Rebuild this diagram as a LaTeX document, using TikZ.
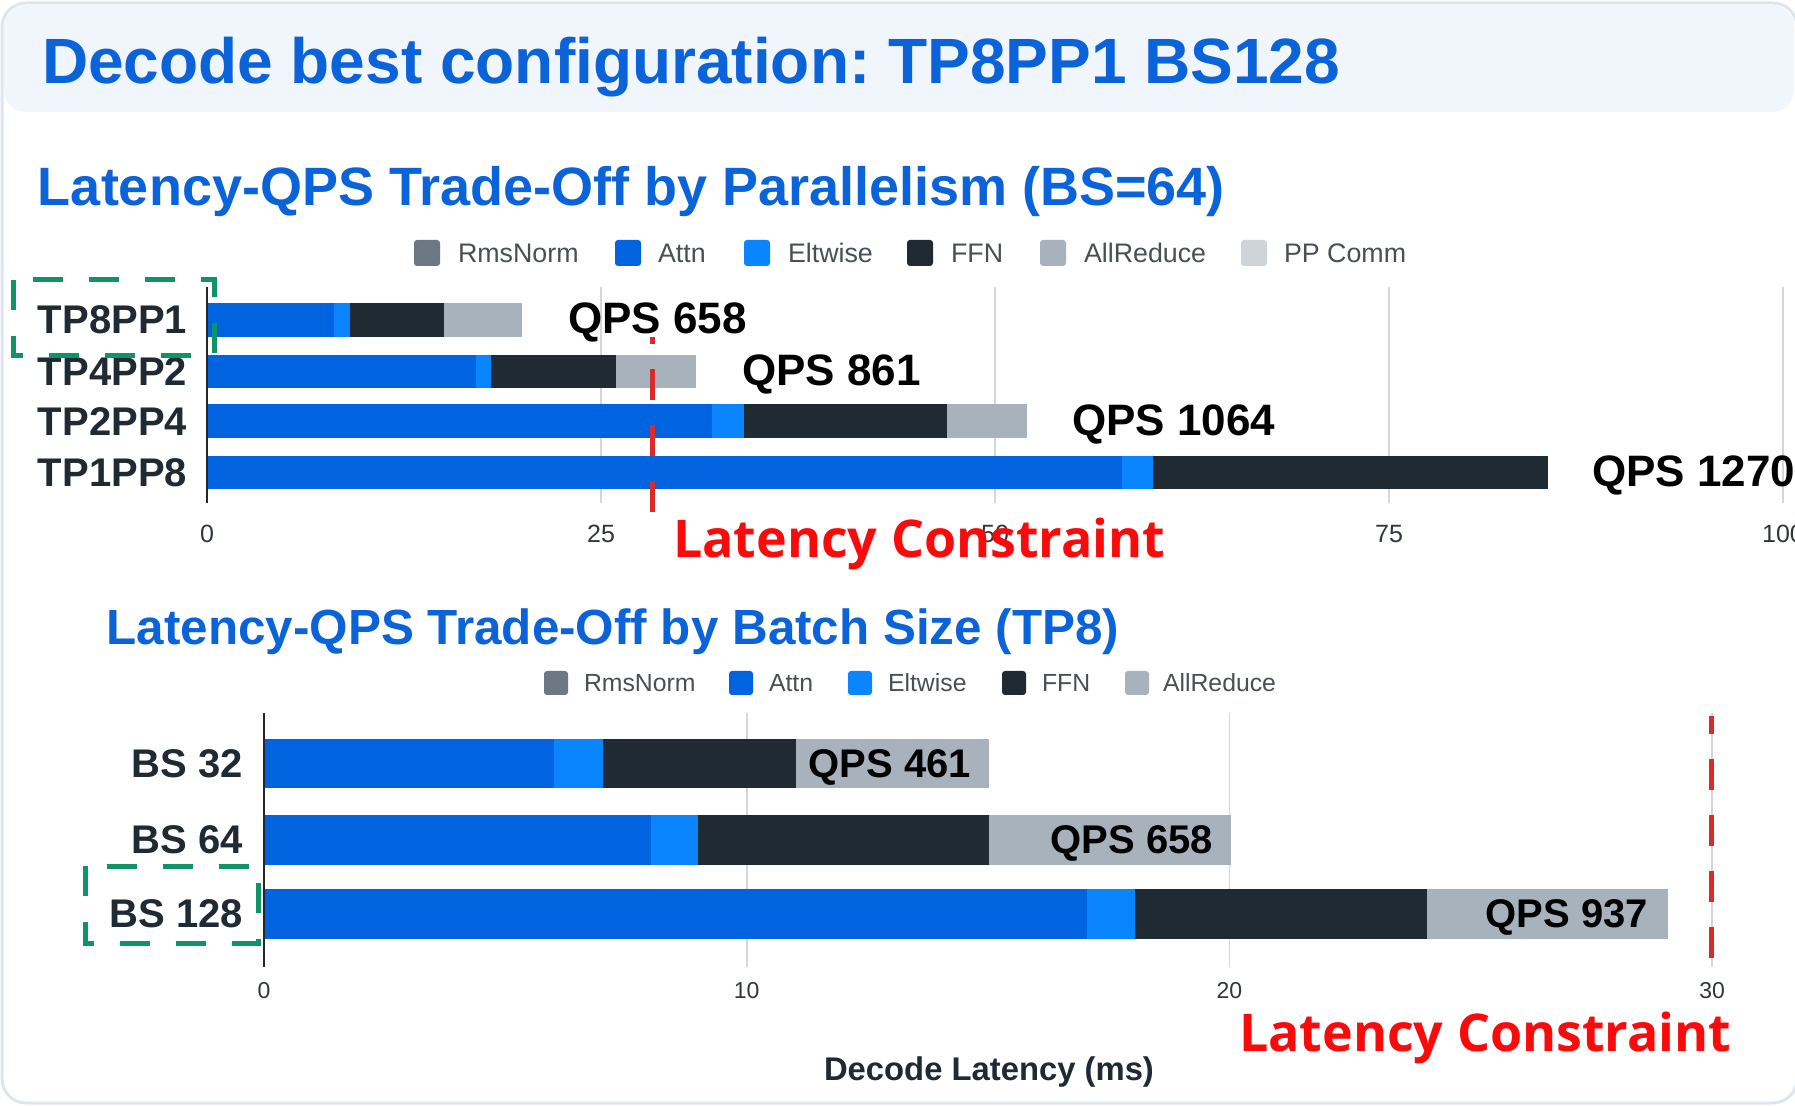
\documentclass[tikz,border=0pt]{standalone}
\usepackage{fontspec}
\setmainfont{Liberation Sans}
\newfontfamily\notefont{Open Sans}
\frenchspacing

\definecolor{cardline}{HTML}{DFE5EE}
\definecolor{headfill}{HTML}{F1F5FC}
\definecolor{titleblue}{HTML}{0B63DA}
\definecolor{cRms}{HTML}{6B7785}
\definecolor{cAttn}{HTML}{0063E0}
\definecolor{cElt}{HTML}{0A84FF}
\definecolor{cFFN}{HTML}{1F2A33}
\definecolor{cAR}{HTML}{A8B2BD}
\definecolor{cPP}{HTML}{CED4DA}
\definecolor{gridc}{HTML}{D3D6DA}
\definecolor{labc}{HTML}{1F2A33}
\definecolor{legc}{HTML}{4A4F55}
\definecolor{tickc}{HTML}{30363C}
\definecolor{limred}{HTML}{DA2A2A}
\definecolor{noteRed}{HTML}{FA0A0A}
\definecolor{boxgreen}{HTML}{0E9466}

\newcommand\fsz[1]{\fontsize{#1pt}{#1pt}\selectfont}
% one stacked-bar segment: x1, x2, y1, y2, colour
\newcommand\barseg[5]{\fill[#5] (#1,#3) rectangle (#2,#4);}

\begin{document}
\begin{tikzpicture}[x=0.5pt,y=-0.5pt,
  txt/.style={inner sep=0pt, outer sep=0pt},
  headtitle/.style={txt, anchor=base west, text=titleblue, font=\bfseries\fsz{32}},
  charttitle/.style={txt, anchor=base west, text=titleblue, font=\bfseries\fsz{#1}},
  legtext/.style={txt, anchor=base west, text=legc, font=\fsz{#1}},
  legsq/.style={fill=#1, rounded corners=1.5pt},
  rowlab/.style={txt, text=labc, font=\bfseries\fsz{20}},
  qps/.style={txt, text=black, font=\bfseries\fsz{#1}},
  tick/.style={txt, anchor=base, text=tickc, font=\fsz{#1}},
  grid/.style={draw=gridc, line width=0.8pt},
  axisline/.style={draw=black!85, line width=1pt},
  limit/.style={draw=limred, line width=2.5pt, dash pattern=on 15.5pt off 12.5pt},
  note/.style={txt, anchor=base west, text=noteRed, font=\notefont\bfseries\fsz{26}},
  best/.style={draw=boxgreen, line width=2.5pt, dash pattern=on 15pt off 13pt}
]
\useasboundingbox (0,0) rectangle (1795,1106);
\clip (0,0) rectangle (1795,1106);

% card and header band
\draw[draw=cardline, line width=1.5pt, fill=white, rounded corners=12pt] (2,3) rectangle (1797,1103);
\fill[headfill, rounded corners=11pt] (4,5) rectangle (1794,112);
\node[headtitle] (head) at (42,83.5) {Decode best configuration: TP8PP1 BS128};

% ---------------- chart 1: parallelism ----------------
\node[charttitle=27] (t1) at (38,206) {Latency-QPS Trade-Off by Parallelism (BS=64)};

% legend
\fill[legsq=cRms]  (414,240) rectangle (440,266);
\node[legtext=13.4] (l1a) at (458,262.5) {RmsNorm};
\fill[legsq=cAttn] (615,240) rectangle (641,266);
\node[legtext=13.4] (l1b) at (658,262.5) {Attn};
\fill[legsq=cElt]  (744,240) rectangle (770,266);
\node[legtext=13.4] (l1c) at (788,262.5) {Eltwise};
\fill[legsq=cFFN]  (907,240) rectangle (933,266);
\node[legtext=13.4] (l1d) at (951,262.5) {FFN};
\fill[legsq=cAR]   (1040,240) rectangle (1066,266);
\node[legtext=13.4] (l1e) at (1084,262.5) {AllReduce};
\fill[legsq=cPP]   (1241,240) rectangle (1267,266);
\node[legtext=13.4] (l1f) at (1284,262.5) {PP Comm};

% grid and ticks
\foreach \v in {25,50,75,100} {
  \pgfmathsetmacro\gx{207+15.76*\v}
  \draw[grid] (\gx,287) -- (\gx,503);
  \node[tick=12.5] (x1-\v) at (\gx,543) {\v};
}
\node[tick=12.5] (x1-0) at (207,543) {0};

% bars
\barseg{207}{334}{303}{337}{cAttn}
\barseg{334}{350}{303}{337}{cElt}
\barseg{350}{444}{303}{337}{cFFN}
\barseg{444}{522}{303}{337}{cAR}

\barseg{207}{476}{355}{388}{cAttn}
\barseg{476}{491}{355}{388}{cElt}
\barseg{491}{616}{355}{388}{cFFN}
\barseg{616}{696}{355}{388}{cAR}

\barseg{207}{712}{404}{438}{cAttn}
\barseg{712}{744}{404}{438}{cElt}
\barseg{744}{947}{404}{438}{cFFN}
\barseg{947}{1027}{404}{438}{cAR}

\barseg{207}{1122}{456}{489}{cAttn}
\barseg{1122}{1153}{456}{489}{cElt}
\barseg{1153}{1548}{456}{489}{cFFN}

\draw[axisline] (207,287) -- (207,503);

% row labels
\node[rowlab, anchor=base west] (r1) at (38,334) {TP8PP1};
\node[rowlab, anchor=base west] (r2) at (38,386) {TP4PP2};
\node[rowlab, anchor=base west] (r3) at (38,436) {TP2PP4};
\node[rowlab, anchor=base west] (r4) at (38,487) {TP1PP8};

% throughput labels
\node[qps=22, anchor=base west] (q1) at (568,334) {QPS 658};
\node[qps=22, anchor=base west] (q2) at (742,386) {QPS 861};
\node[qps=22, anchor=base west] (q3) at (1072,436) {QPS 1064};
\node[qps=22, anchor=base west] (q4) at (1592,487) {QPS 1270};

% latency limit
\coordinate (lim1b) at (652,512);
\coordinate (lim1t) at (652,337);
\draw[limit] (lim1b) -- (lim1t);
\node[note] (n1) at (673,557.5) {Latency Constraint};

% best configuration marker
\draw[best] (13,280) rectangle (214,356);

% ---------------- chart 2: batch size ----------------
\node[charttitle=24.7] (t2) at (106.5,644.5) {Latency-QPS Trade-Off by Batch Size (TP8)};

\fill[legsq=cRms]  (544,671) rectangle (568,695);
\node[legtext=12.4] (l2a) at (584,691.5) {RmsNorm};
\fill[legsq=cAttn] (729,671) rectangle (753,695);
\node[legtext=12.4] (l2b) at (769,691.5) {Attn};
\fill[legsq=cElt]  (848,671) rectangle (872,695);
\node[legtext=12.4] (l2c) at (888,691.5) {Eltwise};
\fill[legsq=cFFN]  (1002,671) rectangle (1026,695);
\node[legtext=12.4] (l2d) at (1042,691.5) {FFN};
\fill[legsq=cAR]   (1125,671) rectangle (1149,695);
\node[legtext=12.4] (l2e) at (1163,691.5) {AllReduce};

\foreach \v in {10,20,30} {
  \pgfmathsetmacro\gx{264+48.27*\v}
  \draw[grid] (\gx,713) -- (\gx,967);
  \node[tick=11.5] (x2-\v) at (\gx,998) {\v};
}
\node[tick=11.5] (x2-0) at (264,998) {0};

\barseg{264}{554}{739}{788}{cAttn}
\barseg{554}{603}{739}{788}{cElt}
\barseg{603}{796}{739}{788}{cFFN}
\barseg{796}{989}{739}{788}{cAR}

\barseg{264}{651}{815}{865}{cAttn}
\barseg{651}{698}{815}{865}{cElt}
\barseg{698}{989}{815}{865}{cFFN}
\barseg{989}{1231}{815}{865}{cAR}

\barseg{264}{1087}{889}{939}{cAttn}
\barseg{1087}{1135}{889}{939}{cElt}
\barseg{1135}{1427}{889}{939}{cFFN}
\barseg{1427}{1668}{889}{939}{cAR}

\draw[axisline] (264,713) -- (264,967);

\node[rowlab, anchor=base east] (b1) at (243,778) {BS 32};
\node[rowlab, anchor=base east] (b2) at (243,854) {BS 64};
\node[rowlab, anchor=base east] (b3) at (243,928) {BS 128};

\node[qps=20, anchor=base east] (p1) at (971,778) {QPS 461};
\node[qps=20, anchor=base east] (p2) at (1213,854) {QPS 658};
\node[qps=20, anchor=base east] (p3) at (1648,928) {QPS 937};

\coordinate (lim2b) at (1711,958);
\coordinate (lim2t) at (1711,716);
\draw[limit] (lim2b) -- (lim2t);
\node[note] (n2) at (1239,1051) {Latency Constraint};

\draw[best] (85,866) rectangle (258,943);

\node[txt, anchor=base, text=labc, font=\bfseries\fsz{16.4}] (xt) at (989,1080) {Decode Latency (ms)};
\end{tikzpicture}
\end{document}
